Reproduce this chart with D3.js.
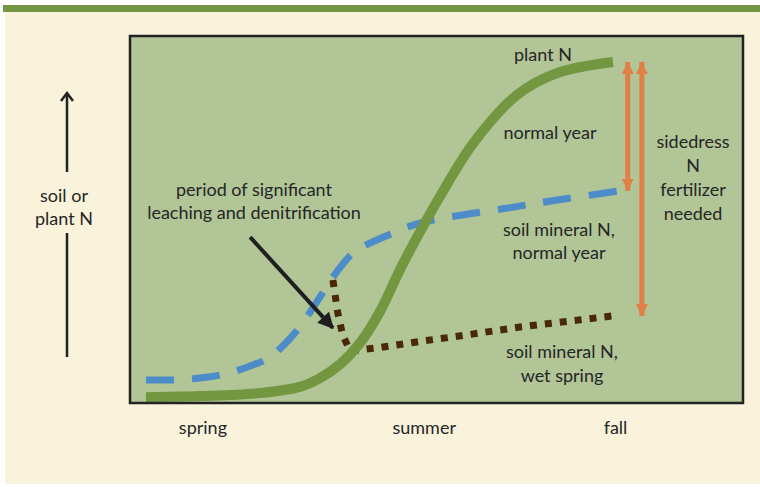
<!DOCTYPE html>
<html>
<head>
<meta charset="utf-8">
<script src="https://cdn.jsdelivr.net/npm/d3@7"></script>
<style>
  html, body { margin: 0; padding: 0; background: #ffffff; }
  svg { display: block; }
  text { font-family: Lato, "Open Sans", sans-serif; fill: #262626; }
</style>
</head>
<body>
<script>
// Season labels along the time axis (x in season-time units, 0–100)
const seasons = ["spring", "summer", "fall"];
const seasonX = [11.9, 48.0, 79.2];

// Plant N uptake over the growing season (relative units, 0–100)
const plantX = [2.6, 11.4, 21.2, 27.7, 31.0, 34.3, 37.5, 40.8, 44.0, 47.3, 50.6, 56.0, 63.1, 69.7, 78.8];
const plantY = [1.6, 1.9, 2.7, 4.4, 6.8, 10.6, 16.3, 25.0, 36.2, 46.6, 56.4, 70.8, 83.9, 89.9, 92.9];

// Soil mineral N in a normal year
const normalX = [2.6, 7.3, 11.4, 15.5, 19.6, 22.8, 26.6, 29.4, 31.0, 33.1, 36.4, 39.2, 42.9, 46.8, 52.2, 61.5, 69.7, 79.9];
const normalY = [6.3, 6.3, 6.8, 7.9, 10.1, 12.5, 18.5, 24.8, 28.9, 34.3, 40.9, 43.6, 46.3, 48.8, 50.7, 53.1, 55.3, 57.8];

// Soil mineral N after a wet spring (losses from the peak, then slow rise)
const wetX = [33.1, 33.9, 34.7, 35.9, 40.3, 47.8, 52.7, 63.6, 78.6];
const wetY = [33.5, 24.5, 18.5, 14.2, 15.0, 16.9, 18.0, 20.7, 23.7];

// Sidedress arrows: from the end of each soil curve up to the final plant N
const sidedressX = [81.2, 83.5];
const sidedressTop = [92.9, 92.9];
const sidedressBottom = [57.8, 23.7];

// Pointer to the leaching/denitrification drop
const pointerX = [19.6, 33.9];
const pointerY = [45.2, 19.1];

const W = 760, H = 487;
const box = { left: 130, top: 36, right: 743, bottom: 403 };

const svg = d3.select("body").append("svg")
  .attr("width", W).attr("height", H);

const defs = svg.append("defs");
defs.append("marker")
  .attr("id", "orangeHead")
  .attr("viewBox", "0 0 10 10")
  .attr("refX", 10).attr("refY", 5)
  .attr("markerUnits", "userSpaceOnUse")
  .attr("markerWidth", 12).attr("markerHeight", 14)
  .attr("orient", "auto-start-reverse")
  .append("path").attr("d", "M0,0 L10,5 L0,10 Z").attr("fill", "#e17f46");
defs.append("marker")
  .attr("id", "blackHead")
  .attr("viewBox", "0 0 10 10")
  .attr("refX", 9).attr("refY", 5)
  .attr("markerUnits", "userSpaceOnUse")
  .attr("markerWidth", 18).attr("markerHeight", 16)
  .attr("orient", "auto")
  .append("path").attr("d", "M0,0 L10,5 L0,10 Z").attr("fill", "#1f1f1f");

// Page background and top rule
svg.append("rect").attr("x", 5).attr("y", 12).attr("width", W - 5).attr("height", 472).attr("fill", "#f9f3dc");
svg.append("rect").attr("x", 3).attr("y", 5).attr("width", W - 3).attr("height", 7).attr("fill", "#729544");

const x = d3.scaleLinear().domain([0, 100]).range([box.left, box.right]);
const y = d3.scaleLinear().domain([0, 100]).range([box.bottom, box.top]);

// Plot panel
svg.append("rect")
  .attr("x", box.left).attr("y", box.top)
  .attr("width", box.right - box.left).attr("height", box.bottom - box.top)
  .attr("fill", "#b1c597");

const zip = (xs, ys) => xs.map((v, i) => [v, ys[i]]);

const smooth = d3.line().x(d => x(d[0])).y(d => y(d[1])).curve(d3.curveCatmullRom.alpha(0.5));
const straight = d3.line().x(d => x(d[0])).y(d => y(d[1]));

// Soil mineral N, normal year (blue dashed)
svg.append("path")
  .attr("d", smooth(zip(normalX, normalY)))
  .attr("fill", "none").attr("stroke", "#4e8bc9").attr("stroke-width", 7)
  .attr("stroke-dasharray", "28 18");

// Soil mineral N, wet spring (brown dotted)
svg.append("path")
  .attr("d", straight(zip(wetX, wetY)))
  .attr("fill", "none").attr("stroke", "#4a2905").attr("stroke-width", 7)
  .attr("stroke-dasharray", "7 8");

// Plant N (green solid)
svg.append("path")
  .attr("d", smooth(zip(plantX, plantY)))
  .attr("fill", "none").attr("stroke", "#739640").attr("stroke-width", 10);

// Sidedress N arrows
sidedressX.forEach((sx, i) => {
  svg.append("line")
    .attr("x1", x(sx)).attr("x2", x(sx))
    .attr("y1", y(sidedressBottom[i])).attr("y2", y(sidedressTop[i]))
    .attr("stroke", "#e17f46").attr("stroke-width", 5)
    .attr("marker-start", "url(#orangeHead)")
    .attr("marker-end", "url(#orangeHead)");
});

// Pointer arrow
svg.append("line")
  .attr("x1", x(pointerX[0])).attr("y1", y(pointerY[0]))
  .attr("x2", x(pointerX[1]) - 5).attr("y2", y(pointerY[1]) - 5)
  .attr("stroke", "#1f1f1f").attr("stroke-width", 4)
  .attr("marker-end", "url(#blackHead)");

// Panel border
svg.append("rect")
  .attr("x", box.left).attr("y", box.top)
  .attr("width", box.right - box.left).attr("height", box.bottom - box.top)
  .attr("fill", "none").attr("stroke", "#222").attr("stroke-width", 2.5);

// Season axis labels
svg.selectAll("text.season").data(seasons).join("text")
  .attr("class", "season")
  .attr("x", (d, i) => x(seasonX[i])).attr("y", 434)
  .attr("text-anchor", "middle").attr("font-size", 18)
  .text(d => d);

// Vertical axis arrow and label
const ax = 67;
svg.append("line").attr("x1", ax).attr("x2", ax).attr("y1", 357).attr("y2", 233)
  .attr("stroke", "#222").attr("stroke-width", 2.5);
svg.append("line").attr("x1", ax).attr("x2", ax).attr("y1", 172).attr("y2", 93)
  .attr("stroke", "#222").attr("stroke-width", 2.5);
svg.append("path").attr("d", `M${ax - 6},${101} L${ax},${93} L${ax + 6},${101}`)
  .attr("fill", "none").attr("stroke", "#222").attr("stroke-width", 2.5);

function block(lines, cx, baseline, step, size) {
  const t = svg.append("text").attr("text-anchor", "middle").attr("font-size", size);
  lines.forEach((l, i) => t.append("tspan").attr("x", cx).attr("y", baseline + i * step).text(l));
}

block(["soil or", "plant N"], 64, 202, 23, 18);
block(["period of significant", "leaching and denitrification"], 254, 196, 23, 18);
block(["plant N"], 543, 61, 22, 18);
block(["normal year"], 550, 139, 22, 18);
block(["sidedress", "N", "fertilizer", "needed"], 693, 148, 24, 18);
block(["soil mineral N,", "normal year"], 559, 236, 23, 18);
block(["soil mineral N,", "wet spring"], 562, 358, 24, 18);
</script>
</body>
</html>
